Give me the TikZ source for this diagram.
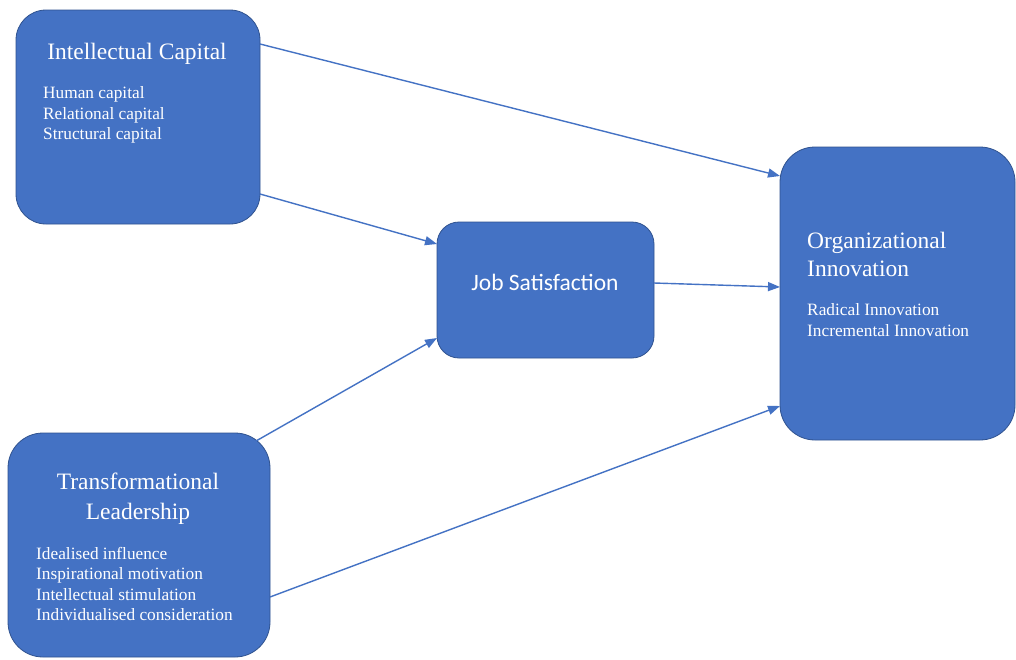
\documentclass[tikz,border=0pt]{standalone}
\usepackage{fontspec}
\setmainfont{Liberation Serif}
\newfontfamily\carl{Carlito}
\usetikzlibrary{arrows.meta}
\definecolor{boxblue}{HTML}{4472C4}
\definecolor{boxedge}{HTML}{2F528F}
\begin{document}
\begin{tikzpicture}[x=1pt,y=-1pt,
  box/.style={draw=boxedge,line width=0.8pt,fill=boxblue,inner sep=0pt,outer sep=0pt},
  arr/.style={draw=boxblue,line width=1.4pt,-{Triangle[length=12pt,width=9pt]}},
  ttl/.style={text=white,font=\fontsize{23.5}{29}\selectfont,inner sep=0pt},
  itm/.style={text=white,font=\fontsize{17.3}{20.5}\selectfont,inner sep=0pt,align=left}]
\useasboundingbox (0,0) rectangle (1016,659);
\clip (0,0) rectangle (1016,659);
\fill[white] (0,0) rectangle (1016,659);
% boxes
\node[box,rounded corners=30pt,minimum width=244pt,minimum height=214pt] (ic) at (138,117) {};
\node[box,rounded corners=22pt,minimum width=217pt,minimum height=136pt] (js) at (545.5,290) {};
\node[box,rounded corners=35pt,minimum width=262pt,minimum height=224pt] (tl) at (139,545) {};
\node[box,rounded corners=35pt,minimum width=235pt,minimum height=293pt] (oi) at (897.5,293.5) {};
% texts
\node[ttl] (ict) at (137,54) {Intellectual Capital};
\node[itm,anchor=west] (ici) at (43,115) {Human capital\\Relational capital\\Structural capital};
\node[text=white,inner sep=0pt,font=\carl\fontsize{23.5}{28}\selectfont] (jst) at (545,282) {Job Satisfaction};
\node[ttl,align=center,font=\fontsize{23.5}{30}\selectfont] (tlt) at (138,499) {Transformational\\Leadership};
\node[itm,anchor=west] (tli) at (36,584) {Idealised influence\\Inspirational motivation\\Intellectual stimulation\\Individualised consideration};
\node[ttl,align=left,anchor=west,font=\fontsize{23.5}{28}\selectfont] (oit) at (807,254) {Organizational\\Innovation};
\node[itm,anchor=west,font=\fontsize{17.3}{21}\selectfont] (oii) at (807,320) {Radical Innovation\\Incremental Innovation};
% connectors
\draw[arr] ([yshift=-34pt]ic.north east) -- ([yshift=-29pt]oi.north west);
\draw[arr] ([yshift=30pt]ic.south east) -- ([yshift=-22pt]js.north west);
\draw[arr] ([yshift=7pt]js.east) -- ([yshift=6.5pt]oi.west);
\draw[arr] ([xshift=-14pt,yshift=-8pt]tl.north east) -- ([yshift=20pt]js.south west);
\draw[arr] ([yshift=-52pt]tl.east) -- ([yshift=34pt]oi.south west);
\end{tikzpicture}
\end{document}
